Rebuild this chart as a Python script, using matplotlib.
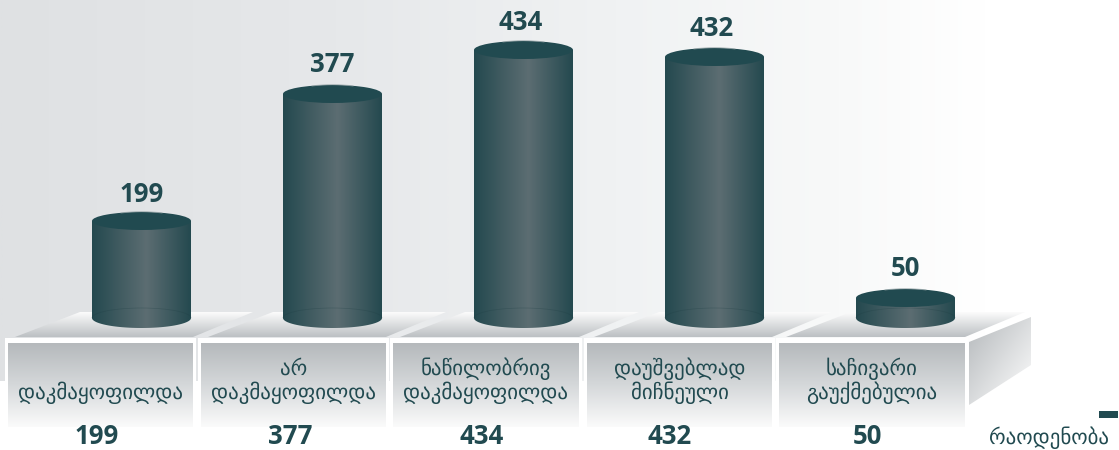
import numpy as np
import matplotlib
matplotlib.use("Agg")
import matplotlib.pyplot as plt
from matplotlib.patches import Polygon, Ellipse, Rectangle, PathPatch, Arc
from matplotlib.path import Path
from matplotlib.colors import LinearSegmentedColormap

categories = ["დაკმაყოფილდა", "არ\nდაკმაყოფილდა", "ნაწილობრივ\nდაკმაყოფილდა",
              "დაუშვებლად\nმიჩნეული", "საჩივარი\nგაუქმებულია"]
values = [199, 377, 434, 432, 50]
series_name = "რაოდენობა"

# the reference's axis is not proportional: value -> pixels above the base
scale_values = [0, 50, 199, 377, 432, 434, 520]
scale_pixels = [0, 20, 97, 224, 261, 268, 318]

W, H = 1119, 450
INK = "#214a50"
GEO = ["DejaVu Sans"]
NUM = ["Open Sans", "DejaVu Sans"]
BASE_Y, RY, SLOT, X0, BAR_W = 318, 9, 191, 141.5, 99
LABEL_DX = [0, 0, -3, -3, 0]
LABEL_DY = [2, -1, 1, 0, 0]
ROW_X = [96.5, 290.5, 481.5, 670, 867.5]

fig = plt.figure(figsize=(W / 100, H / 100), dpi=100, facecolor="white")


def pixel_axes(z):
    a = fig.add_axes([0, 0, 1, 1], zorder=z)
    a.set_xlim(0, W)
    a.set_ylim(H, 0)
    a.axis("off")
    return a


def grad(a, stops, box, horizontal=False, clip=None, angle=False):
    cmap = LinearSegmentedColormap.from_list("g", stops)
    if angle:
        xx, yy = np.meshgrid(np.linspace(0, 1, 128), np.linspace(0, 1, 128))
        arr = (xx + yy) / 2
    elif horizontal:
        arr = np.linspace(0, 1, 512)[None, :]
    else:
        arr = np.linspace(0, 1, 256)[:, None]
    im = a.imshow(arr, cmap=cmap, extent=box, aspect="auto", interpolation="bilinear",
                  vmin=0, vmax=1, zorder=2)
    if clip is not None:
        clip.set_transform(a.transData)
        im.set_clip_path(clip)
    a.set_xlim(0, W)
    a.set_ylim(H, 0)
    return im


# ---------- background and platform ----------
bg = pixel_axes(0)
grad(bg, [(0, "#dfe1e3"), (.3, "#e6e8ea"), (.55, "#f0f2f3"), (.75, "#f8f9f9"), (.88, "#ffffff"), (1, "#ffffff")],
     (0, W, 381, 0), horizontal=True)

fronts = [(8, 193), (201, 386), (393, 579), (587, 772), (779, 965)]
for i, (l, r) in enumerate(fronts):
    back = 62
    top = Polygon([(l + 7, 337), (r, 337), (r + back - 2, 312), (l + back + 10, 312)], closed=True,
                  fc="none", ec="none")
    bg.add_patch(top)
    bg.add_patch(Polygon([(l - 3, 340), (r + 5, 340), (r + back + 4, 310), (l + back + 6, 310)],
                         closed=True, fc="white", ec="none", zorder=1.5))
    grad(bg, [(0, "#fcfcfc"), (1, "#bcc0c3")], (l + 5, r + back, 337, 312), clip=top)
    bg.add_patch(Rectangle((l - 3, 338), r - l + 6, 100, fc="white", ec="none", zorder=2.2))
    im = grad(bg, [(0, "#b5b9bc"), (.5, "#d5d8da"), (1, "#fbfbfb")], (l, r, 427, 343))
    im.set_zorder(2.4)

side = Polygon([(969, 342), (1031, 317), (1031, 365), (969, 405)], closed=True, fc="none", ec="none")
bg.add_patch(side)
grad(bg, [(0, "#b4b8bb"), (1, "#ffffff")], (969, 1031, 405, 317), clip=side, angle=True)
bg.set_xlim(0, W)
bg.set_ylim(H, 0)

# ---------- data axes ----------
chart = fig.add_axes([0, 1 - BASE_Y / H, 1, BASE_Y / H], zorder=1)
chart.set_yscale("function", functions=(lambda v: np.interp(v, scale_values, scale_pixels),
                                        lambda p: np.interp(p, scale_pixels, scale_values)))
chart.set_ylim(0, scale_values[-1])
chart.set_xlim(-X0 / SLOT, (W - X0) / SLOT)
chart.axis("off")
bars = chart.bar(range(len(values)), values, width=BAR_W / SLOT, color=INK)
fig.canvas.draw()

# ---------- cylinders and text ----------
fg = pixel_axes(2)
body = [(0, "#24494f"), (.55, "#5c6d72"), (1, "#24494f")]
for i, (b, val) in enumerate(zip(bars, values)):
    ext = b.get_window_extent()
    l, r = ext.x0, ext.x1
    top = H - ext.y1
    bot = H - ext.y0
    cx = (l + r) / 2
    t = np.linspace(0, np.pi, 60)
    xs = cx + (r - l) / 2 * np.cos(t)
    ys = bot + (RY + 1) * np.sin(t)
    verts = [(l, top)] + [(r, top)] + list(zip(xs, ys)) + [(l, top)]
    clip = PathPatch(Path(verts), fc="none", ec="none")
    fg.add_patch(clip)
    grad(fg, body, (l, r, bot + RY + 1, top), horizontal=True, clip=clip)
    fg.add_patch(Arc((cx, bot), r - l, 2 * (RY + 1), theta1=180, theta2=360, color="#1d3d42",
                     lw=0.5, alpha=.3, zorder=3))
    fg.add_patch(Ellipse((cx, top), r - l, 2 * RY, fc=INK, ec="none", zorder=4))
    fg.add_patch(Arc((cx, top - .3), r - l - 20, 2 * RY, theta1=200, theta2=340, color="#8a9a9d",
                     lw=.7, alpha=.7, zorder=4))
    fg.text(cx + LABEL_DX[i], top - 29 + LABEL_DY[i], str(val), ha="center", va="center", family=NUM,
            fontsize=18.5, fontweight="bold", color=INK, zorder=6)

    l0, r0 = fronts[i]
    mid = (l0 + r0) / 2
    lines = categories[i].split("\n")
    if len(lines) == 1:
        lines = [""] + lines
    for ln, yy in zip(lines, (375, 399)):
        if ln:
            fg.text(mid, yy, ln, ha="center", va="baseline", family=GEO, fontsize=15, color=INK, zorder=6)
    fg.text(ROW_X[i], 437, str(val), ha="center", va="center", family=NUM, fontsize=18.5,
            fontweight="bold", color=INK, zorder=6)

fg.add_patch(Rectangle((1099, 411), 19, 7, fc=INK, ec="none", zorder=6))
fg.text(989, 444, series_name, ha="left", va="baseline", family=GEO, fontsize=15, color=INK, zorder=6)
fg.set_xlim(0, W)
fg.set_ylim(H, 0)

fig.savefig("out.png", dpi=100)
